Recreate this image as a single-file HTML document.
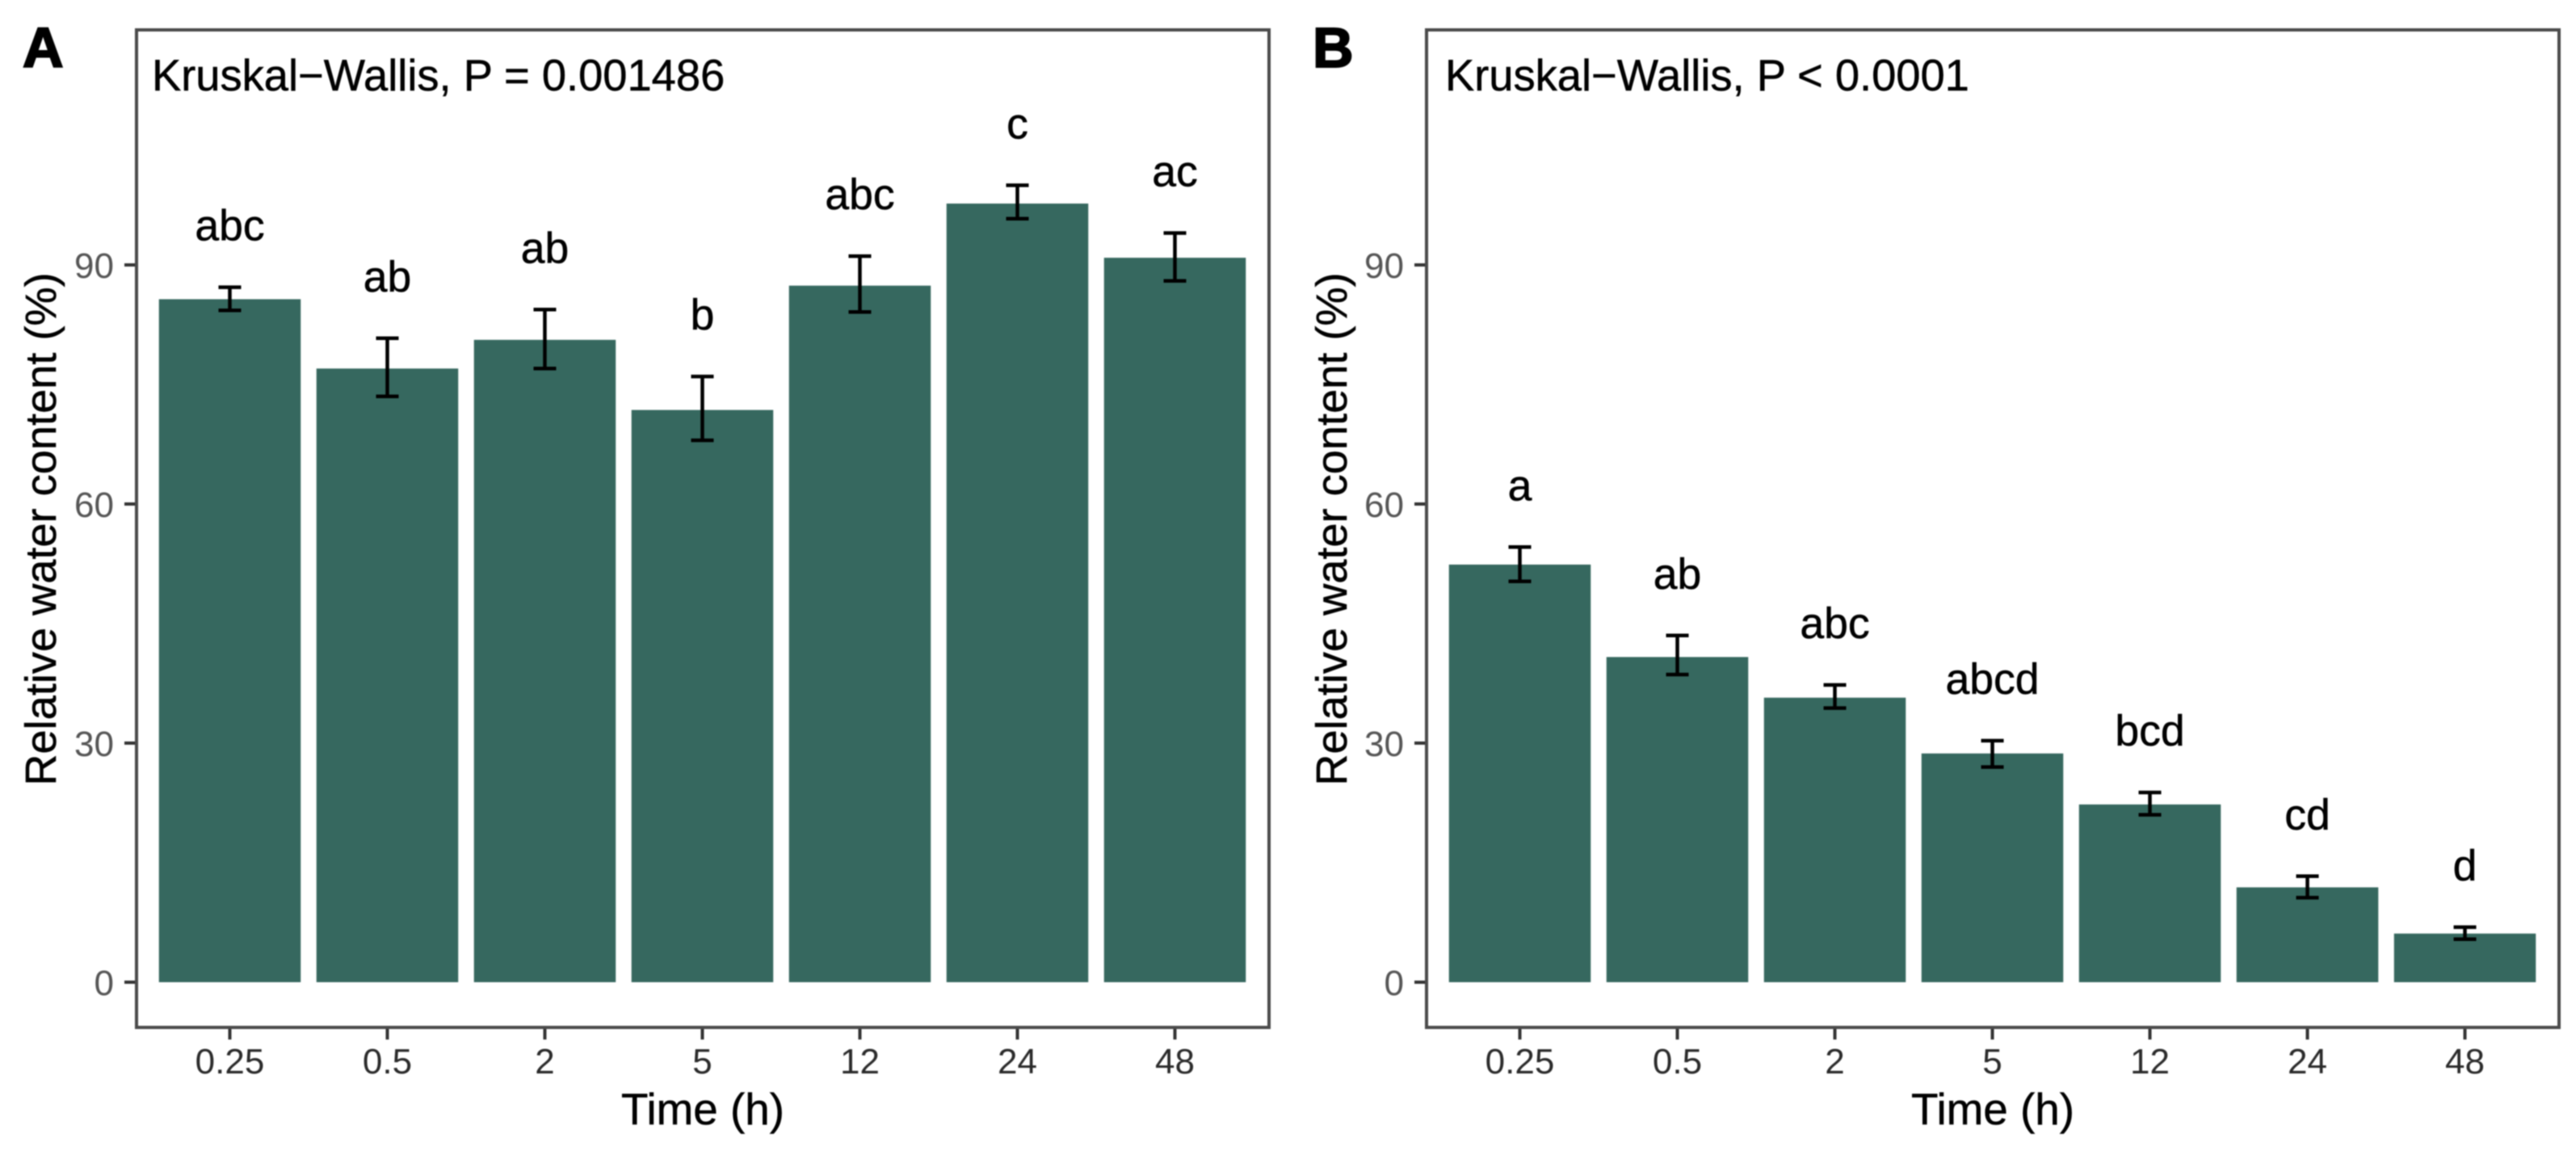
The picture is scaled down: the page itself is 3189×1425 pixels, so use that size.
<!DOCTYPE html>
<html lang="en">
<head>
<meta charset="utf-8">
<title>Relative water content over time</title>
<style>
html,body{margin:0;padding:0;background:#fff;width:3189px;height:1425px;overflow:hidden}
svg{display:block;filter:blur(0.9px)}
text{font-family:"Liberation Sans",sans-serif}
</style>
</head>
<body>
<svg id="figure" xmlns="http://www.w3.org/2000/svg" width="3189" height="1425" viewBox="0 0 3189 1425">
  <rect x="0" y="0" width="3189" height="1425" fill="#ffffff"/>

  <g id="panel-a">
    <text x="28" y="83" font-size="70" font-weight="bold" fill="#000" stroke="#000" stroke-width="2">A</text>
    <g id="marks-a"></g>
    <rect x="169" y="37" width="1402" height="1235" fill="none" stroke="#4a4a4a" stroke-width="4"/>
    <text x="188" y="112" font-size="54.3" fill="#000" stroke="#000" stroke-width="0.5">Kruskal−Wallis, P = 0.001486</text>
    <text x="870" y="1392" font-size="54.8" fill="#000" stroke="#000" stroke-width="0.5" text-anchor="middle">Time (h)</text>
    <text transform="translate(69 655) rotate(-90)" font-size="54.2" fill="#000" stroke="#000" stroke-width="0.5" text-anchor="middle">Relative water content (%)</text>
  </g>

  <g id="panel-b">
    <text x="1625" y="83" font-size="70" font-weight="bold" fill="#000" stroke="#000" stroke-width="2">B</text>
    <g id="marks-b"></g>
    <rect x="1766" y="37" width="1402" height="1235" fill="none" stroke="#4a4a4a" stroke-width="4"/>
    <text x="1789" y="112" font-size="54.3" fill="#000" stroke="#000" stroke-width="0.5">Kruskal−Wallis, P &lt; 0.0001</text>
    <text x="2467" y="1392" font-size="54.8" fill="#000" stroke="#000" stroke-width="0.5" text-anchor="middle">Time (h)</text>
    <text transform="translate(1667 655) rotate(-90)" font-size="54.2" fill="#000" stroke="#000" stroke-width="0.5" text-anchor="middle">Relative water content (%)</text>
  </g>
</svg>

<script>
const categories = ['0.25', '0.5', '2', '5', '12', '24', '48'];
const yTickValues = [0, 30, 60, 90];

const meansA = [85.7, 77.0, 80.6, 71.8, 87.4, 97.7, 90.9];
const upperA = [87.2, 80.8, 84.4, 76.0, 91.1, 100.0, 94.0];
const lowerA = [84.3, 73.5, 77.0, 68.0, 84.1, 95.8, 88.0];
const lettersA = ['abc', 'ab', 'ab', 'b', 'abc', 'c', 'ac'];

const meansB = [52.4, 40.8, 35.7, 28.7, 22.3, 11.9, 6.1];
const upperB = [54.6, 43.5, 37.3, 30.3, 23.8, 13.3, 6.9];
const lowerB = [50.3, 38.6, 34.4, 27.0, 21.0, 10.6, 5.4];
const lettersB = ['a', 'ab', 'abc', 'abcd', 'bcd', 'cd', 'd'];

const SVG_NS = 'http://www.w3.org/2000/svg';

function make(parent, tag, attrs, content) {
  const el = document.createElementNS(SVG_NS, tag);
  for (const k in attrs) el.setAttribute(k, attrs[k]);
  if (content !== undefined) el.textContent = content;
  parent.appendChild(el);
  return el;
}

function yScale(v) {
  return 1216 - v * (888 / 90);
}

function drawPanel(groupId, firstCenter, frameLeft, prefix, means, upper, lower, letters) {
  const g = document.getElementById(groupId);
  const step = 195;
  const barWidth = 175.5;
  const xScale = i => firstCenter + i * step;
  const axisBottom = 1272;

  yTickValues.forEach(function (v) {
    const tick = make(g, 'line', { x1: frameLeft - 15, x2: frameLeft, y1: yScale(v), y2: yScale(v), stroke: '#333', 'stroke-width': 4 });
    
    
    const label = make(g, 'text', { x: frameLeft - 28, y: yScale(v) + 16, 'font-size': 44, fill: '#555', 'text-anchor': 'end' }, String(v));
    
    
  });

  categories.forEach(function (c, i) {
    const cx = xScale(i);
    const top = yScale(means[i]);

    const bar = make(g, 'rect', { x: cx - barWidth / 2, y: top, width: barWidth, height: yScale(0) - top, fill: '#36685f' });
    
    

    const whisker = make(g, 'path', {
      d: 'M' + (cx - 14) + ' ' + yScale(upper[i]) + 'H' + (cx + 14) +
         'M' + cx + ' ' + yScale(upper[i]) + 'V' + yScale(lower[i]) +
         'M' + (cx - 14) + ' ' + yScale(lower[i]) + 'H' + (cx + 14),
      fill: 'none', stroke: '#000', 'stroke-width': 4.5
    });
    
    

    const letter = make(g, 'text', { x: cx, y: yScale(upper[i]) - 58, 'font-size': 53.5, fill: '#000', stroke: '#000', 'stroke-width': 0.5, 'text-anchor': 'middle' }, letters[i]);
    
    

    const tick = make(g, 'line', { x1: cx, x2: cx, y1: axisBottom, y2: axisBottom + 15, stroke: '#333', 'stroke-width': 4 });
    
    

    const label = make(g, 'text', { x: cx, y: 1329, 'font-size': 44, fill: '#2a2a2a', 'text-anchor': 'middle' }, c);
    
    
  });
}

drawPanel('marks-a', 284.5, 169, 'panel-a', meansA, upperA, lowerA, lettersA);
drawPanel('marks-b', 1881.5, 1766, 'panel-b', meansB, upperB, lowerB, lettersB);
</script>
</body>
</html>
